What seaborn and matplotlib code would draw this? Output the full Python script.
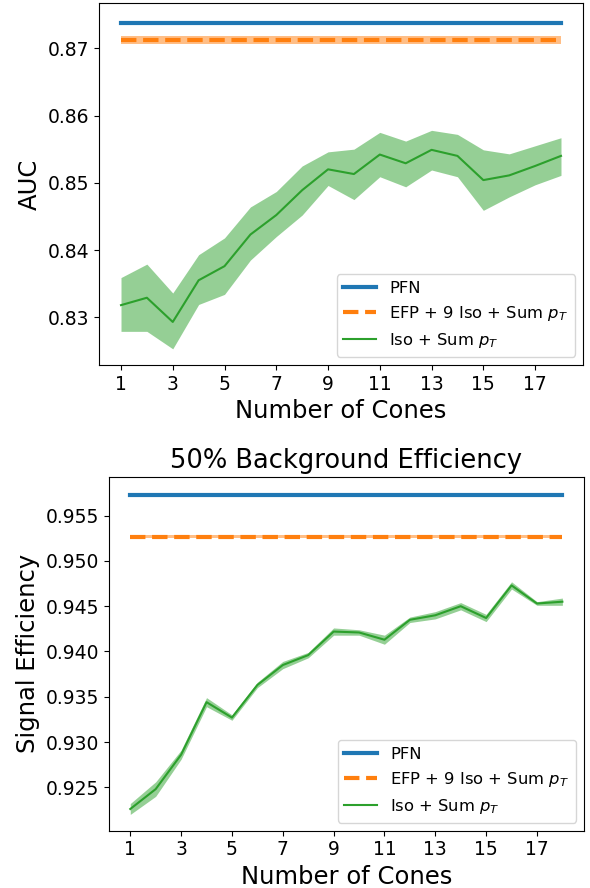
import numpy as np
import pandas as pd
import matplotlib
matplotlib.use("Agg")
import matplotlib.pyplot as plt
import seaborn as sns

# Number of isolation cones
cones = list(range(1, 19))

# AUC results
auc_pfn = 0.8738
auc_efp = 0.8712
auc_efp_err = 0.0006
auc_iso = [0.8318, 0.8329, 0.8293, 0.8355, 0.8376, 0.8423, 0.8452, 0.8489, 0.8520,
           0.8513, 0.8542, 0.8529, 0.8549, 0.8540, 0.8504, 0.8511, 0.8525, 0.8540]
auc_iso_lo = [0.8279, 0.8279, 0.8253, 0.8319, 0.8334, 0.8385, 0.8420, 0.8452, 0.8496,
              0.8475, 0.8509, 0.8494, 0.8519, 0.8509, 0.8459, 0.8479, 0.8497, 0.8511]
auc_iso_hi = [0.8359, 0.8379, 0.8336, 0.8393, 0.8418, 0.8464, 0.8487, 0.8525, 0.8546,
              0.8550, 0.8575, 0.8562, 0.8578, 0.8572, 0.8549, 0.8543, 0.8555, 0.8567]

# Signal efficiency at 50% background efficiency
eff_pfn = 0.9573
eff_efp = 0.9527
eff_efp_err = 0.0002
eff_iso = [0.9226, 0.9248, 0.9286, 0.9344, 0.9327, 0.9363, 0.9385, 0.9396, 0.9422,
           0.9421, 0.9413, 0.9435, 0.9440, 0.9450, 0.9437, 0.9473, 0.9453, 0.9455]
eff_iso_err = [0.0006, 0.0008, 0.0005, 0.0005, 0.0003, 0.0003, 0.0004, 0.0003, 0.0004,
               0.0003, 0.0005, 0.0003, 0.0004, 0.0004, 0.0004, 0.0004, 0.0002, 0.0004]

labels = ["PFN", r"EFP + 9 Iso + Sum $p_T$", r"Iso + Sum $p_T$"]
blue, orange, green = "#1f77b4", "#ff7f0e", "#2ca02c"

TICK_FS = 13.5
LABEL_FS = 17.5
TITLE_FS = 18.5
LEGEND_FS = 11.8


def draw_panel(ax, pfn, efp, efp_err, iso, iso_lo, iso_hi):
    df = pd.DataFrame({"cones": cones, "iso": iso,
                       "pfn": [pfn] * len(cones), "efp": [efp] * len(cones)})
    sns.lineplot(data=df, x="cones", y="pfn", ax=ax, color=blue, lw=3, label=labels[0])
    ax.fill_between(cones, efp - efp_err, efp + efp_err, color=orange, alpha=0.5, lw=0)
    sns.lineplot(data=df, x="cones", y="efp", ax=ax, color=orange, lw=3,
                 linestyle="--", label=labels[1])
    ax.fill_between(cones, iso_lo, iso_hi, color=green, alpha=0.5, lw=0)
    sns.lineplot(data=df, x="cones", y="iso", ax=ax, color=green, lw=1.5, label=labels[2])
    ax.set_xticks(list(range(1, 19, 2)))
    ax.tick_params(labelsize=TICK_FS)
    ax.set_xlabel("Number of Cones", fontsize=LABEL_FS)
    ax.legend(loc="lower right", fontsize=LEGEND_FS)


fig = plt.figure(figsize=(5.9, 8.88), dpi=100)

ax1 = fig.add_axes([0.1678, 0.589, 0.8203, 0.4073])
draw_panel(ax1, auc_pfn, auc_efp, auc_efp_err, auc_iso, auc_iso_lo, auc_iso_hi)
ax1.set_ylim(0.8229, 0.8767)
ax1.set_yticks([0.83, 0.84, 0.85, 0.86, 0.87])
ax1.set_ylabel("AUC", fontsize=LABEL_FS)

ax2 = fig.add_axes([0.1842, 0.0645, 0.8056, 0.3986])
eff_lo = [v - e for v, e in zip(eff_iso, eff_iso_err)]
eff_hi = [v + e for v, e in zip(eff_iso, eff_iso_err)]
draw_panel(ax2, eff_pfn, eff_efp, eff_efp_err, eff_iso, eff_lo, eff_hi)
ax2.set_ylim(0.9202, 0.9593)
ax2.set_yticks([0.925, 0.930, 0.935, 0.940, 0.945, 0.950, 0.955])
ax2.set_ylabel("Signal Efficiency", fontsize=LABEL_FS)
ax2.set_title("50% Background Efficiency", fontsize=TITLE_FS)

fig.savefig("out.png", dpi=100)
